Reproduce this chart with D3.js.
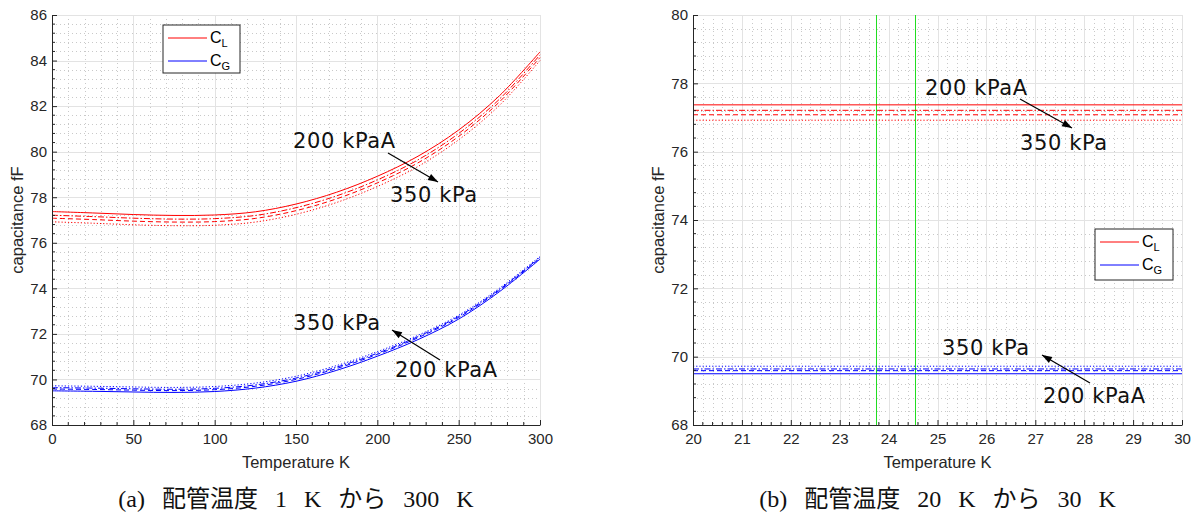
<!DOCTYPE html>
<html><head><meta charset="utf-8">
<script src="https://cdn.jsdelivr.net/npm/d3@7"></script>
<style>
body{margin:0;background:#fff;}
svg{display:block;}
</style></head>
<body>
<svg id="chart" width="1197" height="517"></svg>
<script>
// ---------- data ----------
const tempA = [0,25,50,75,100,125,150,175,200,225,250,275,300];
const cL_200 = [77.37,77.31,77.24,77.20,77.22,77.36,77.70,78.22,78.92,79.80,80.95,82.45,84.38];
const cL_250 = [77.21,77.15,77.08,77.04,77.06,77.20,77.54,78.06,78.76,79.64,80.80,82.30,84.25];
const cL_300 = [77.08,77.02,76.95,76.91,76.93,77.07,77.41,77.93,78.63,79.51,80.67,82.18,84.13];
const cL_350 = [76.92,76.86,76.79,76.75,76.77,76.91,77.25,77.77,78.47,79.35,80.52,82.03,84.00];
const cG_200 = [69.50,69.48,69.45,69.43,69.47,69.62,69.92,70.40,71.02,71.75,72.65,73.85,75.28];
const cG_300 = [69.58,69.56,69.53,69.51,69.55,69.70,70.00,70.48,71.10,71.83,72.72,73.91,75.32];
const cG_250 = [69.64,69.62,69.59,69.57,69.61,69.76,70.06,70.54,71.15,71.88,72.77,73.95,75.36];
const cG_350 = [69.72,69.70,69.67,69.65,69.69,69.84,70.14,70.61,71.22,71.94,72.82,74.00,75.40];

const tempB = [20,30];
const cL_200b = [77.37,77.37];
const cL_250b = [77.21,77.21];
const cL_300b = [77.08,77.08];
const cL_350b = [76.92,76.92];
const cG_200b = [69.50,69.50];
const cG_300b = [69.59,69.59];
const cG_250b = [69.64,69.64];
const cG_350b = [69.72,69.72];
const markerT = [23.75,24.55];

const xTicksA = [0,50,100,150,200,250,300];
const yTicksA = [68,70,72,74,76,78,80,82,84,86];
const xTicksB = [20,21,22,23,24,25,26,27,28,29,30];
const yTicksB = [68,70,72,74,76,78,80];
const legendLabels = ["L","G"];
const xLabel = "Temperature K";
const yLabel = "capacitance fF";
const captionA = "(a) 配管温度 1 K から 300 K";
const captionB = "(b) 配管温度 20 K から 30 K";

// ---------- drawing ----------
const svg = d3.select("#chart");
const AX = "#262626";
const styles = {solid:null, dashdot:"6,2,1.5,2", dashed:"5,3", dotted:"1.2,2"};

function panel(cfg){
  const x = d3.scaleLinear().domain(cfg.xd).range(cfg.xr);
  const y = d3.scaleLinear().domain(cfg.yd).range(cfg.yr);
  const g = svg.append("g");
  const xMinor = d3.range(cfg.xd[0], cfg.xd[1]+1e-9, cfg.xm).filter(v=>!cfg.xt.some(t=>Math.abs(t-v)<1e-6));
  const yMinor = d3.range(cfg.yd[0], cfg.yd[1]+1e-9, cfg.ym).filter(v=>!cfg.yt.some(t=>Math.abs(t-v)<1e-6));
  g.selectAll(".mx").data(xMinor).join("line")
    .attr("x1",d=>Math.round(x(d))+0.5).attr("x2",d=>Math.round(x(d))+0.5)
    .attr("y1",cfg.yr[1]).attr("y2",cfg.yr[0])
    .attr("stroke","#c9c9c9").attr("stroke-dasharray","1,3");
  g.selectAll(".my").data(yMinor).join("line")
    .attr("y1",d=>Math.round(y(d))+0.5).attr("y2",d=>Math.round(y(d))+0.5)
    .attr("x1",cfg.xr[0]).attr("x2",cfg.xr[1])
    .attr("stroke","#c9c9c9").attr("stroke-dasharray","1,3");
  g.selectAll(".gx").data(cfg.xt).join("line")
    .attr("x1",d=>Math.round(x(d))+0.5).attr("x2",d=>Math.round(x(d))+0.5)
    .attr("y1",cfg.yr[1]).attr("y2",cfg.yr[0])
    .attr("stroke","#e3e3e3");
  g.selectAll(".gy").data(cfg.yt).join("line")
    .attr("y1",d=>Math.round(y(d))+0.5).attr("y2",d=>Math.round(y(d))+0.5)
    .attr("x1",cfg.xr[0]).attr("x2",cfg.xr[1])
    .attr("stroke","#e3e3e3");
  if(cfg.markers){
    g.selectAll(".mk").data(cfg.markers).join("line")
      .attr("x1",d=>Math.round(x(d))+0.5).attr("x2",d=>Math.round(x(d))+0.5)
      .attr("y1",cfg.yr[1]).attr("y2",cfg.yr[0])
      .attr("stroke","#22dd22").attr("stroke-width",1);
  }
  const line = d3.line().x(d=>x(d[0])).y(d=>y(d[1])).curve(d3.curveCatmullRom);
  cfg.series.forEach(s=>{
    g.append("path").attr("d",line(cfg.t.map((t,i)=>[t,s.v[i]])))
      .attr("fill","none").attr("stroke",s.c).attr("stroke-width",1)
      .attr("stroke-dasharray",styles[s.s]);
  });
  const xa = g.append("g").attr("transform",`translate(0,${cfg.yr[0]})`)
    .call(d3.axisBottom(x).tickValues(cfg.xt).tickSize(-5).tickSizeOuter(0).tickPadding(8));
  const ya = g.append("g").attr("transform",`translate(${cfg.xr[0]},0)`)
    .call(d3.axisLeft(y).tickValues(cfg.yt).tickSize(-5).tickSizeOuter(0).tickPadding(5));
  [xa,ya].forEach(a=>{
    a.select(".domain").attr("stroke",AX);
    a.selectAll(".tick line").attr("stroke",AX);
    a.selectAll("text").attr("fill",AX).style("font-family","Liberation Sans, Arial, sans-serif").style("font-size","15px");
  });
  g.selectAll(".mtx").data(xMinor).join("line")
    .attr("x1",d=>x(d)).attr("x2",d=>x(d)).attr("y1",cfg.yr[0]).attr("y2",cfg.yr[0]-3).attr("stroke",AX);
  g.selectAll(".mty").data(yMinor).join("line")
    .attr("y1",d=>y(d)).attr("y2",d=>y(d)).attr("x1",cfg.xr[0]).attr("x2",cfg.xr[0]+3).attr("stroke",AX);
  const cx = (cfg.xr[0]+cfg.xr[1])/2;
  g.append("text").attr("x",cx).attr("y",468).attr("text-anchor","middle")
    .attr("fill",AX).style("font-family","Liberation Sans, Arial, sans-serif").style("font-size","16.5px").text(xLabel);
  g.append("text").attr("transform",`translate(${cfg.xr[0]-29},${(cfg.yr[0]+cfg.yr[1])/2}) rotate(-90)`)
    .attr("text-anchor","middle").attr("fill",AX)
    .style("font-family","Liberation Sans, Arial, sans-serif").style("font-size","16.5px").text(yLabel);
  g.append("text").attr("x",cx).attr("y",507).attr("text-anchor","middle")
    .attr("fill","#111").style("font-family","Liberation Serif, Noto Sans CJK JP, serif")
    .style("font-size","24px").style("word-spacing","11px").text(cfg.caption);
  const L = cfg.legend;
  const lg = g.append("g");
  lg.append("rect").attr("x",L.x).attr("y",L.y).attr("width",L.w).attr("height",L.h)
    .attr("fill","#fff").attr("stroke",AX);
  [["#ff0000",legendLabels[0]],["#0000ff",legendLabels[1]]].forEach((d,i)=>{
    const yy = L.y + 13 + i*23;
    lg.append("line").attr("x1",L.x+5).attr("x2",L.x+44).attr("y1",yy).attr("y2",yy).attr("stroke",d[0]);
    const t = lg.append("text").attr("x",L.x+47).attr("y",yy+5).attr("fill","#000")
      .style("font-family","Liberation Sans, Arial, sans-serif").style("font-size","16px");
    t.append("tspan").text("C");
    t.append("tspan").attr("dy",4).style("font-size","11px").text(d[1]);
  });
  cfg.notes.forEach(n=>{
    n.labels.forEach(l=>{
      g.append("text").attr("x",l[0]).attr("y",l[1]).attr("fill","#111")
        .style("font-family","DejaVu Sans, sans-serif").style("font-size","21px").style("letter-spacing","0.6px").text(l[2]);
    });
    const [x1,y1,x2,y2] = n.arrow;
    g.append("line").attr("x1",x1).attr("y1",y1).attr("x2",x2).attr("y2",y2).attr("stroke","#000").attr("stroke-width",1.2);
    const ang = Math.atan2(y2-y1,x2-x1), hl=10, hw=3.5;
    const bx = x2-hl*Math.cos(ang), by = y2-hl*Math.sin(ang);
    g.append("path").attr("d",`M${x2},${y2}L${bx-hw*Math.sin(ang)},${by+hw*Math.cos(ang)}L${bx+hw*Math.sin(ang)},${by-hw*Math.cos(ang)}Z`).attr("fill","#000");
  });
}

panel({
  xd:[0,300], xr:[52,540], yd:[68,86], yr:[425,15], xt:xTicksA, yt:yTicksA, xm:10, ym:0.4,
  t:tempA,
  series:[
    {v:cL_200,c:"#ff0000",s:"solid"},{v:cL_250,c:"#ff0000",s:"dashdot"},{v:cL_300,c:"#ff0000",s:"dashed"},{v:cL_350,c:"#ff0000",s:"dotted"},
    {v:cG_200,c:"#0000ff",s:"solid"},{v:cG_250,c:"#0000ff",s:"dashdot"},{v:cG_300,c:"#0000ff",s:"dashed"},{v:cG_350,c:"#0000ff",s:"dotted"}
  ],
  legend:{x:163,y:25,w:77,h:48},
  caption:captionA,
  notes:[
    {labels:[[293,148,"200 kPaA"],[390,202,"350 kPa"]], arrow:[388,153,438,182]},
    {labels:[[293,330,"350 kPa"],[395,377,"200 kPaA"]], arrow:[440,360,392,330]}
  ]
});
panel({
  xd:[20,30], xr:[693,1182], yd:[68,80], yr:[425,15], xt:xTicksB, yt:yTicksB, xm:0.2, ym:0.4,
  t:tempB, markers:markerT,
  series:[
    {v:cL_200b,c:"#ff0000",s:"solid"},{v:cL_250b,c:"#ff0000",s:"dashdot"},{v:cL_300b,c:"#ff0000",s:"dashed"},{v:cL_350b,c:"#ff0000",s:"dotted"},
    {v:cG_200b,c:"#0000ff",s:"solid"},{v:cG_250b,c:"#0000ff",s:"dashdot"},{v:cG_300b,c:"#0000ff",s:"dashed"},{v:cG_350b,c:"#0000ff",s:"dotted"}
  ],
  legend:{x:1095,y:229,w:78,h:51},
  caption:captionB,
  notes:[
    {labels:[[925,95,"200 kPaA"],[1020,150,"350 kPa"]], arrow:[1020,99,1072,128]},
    {labels:[[942,355,"350 kPa"],[1043,403,"200 kPaA"]], arrow:[1090,383,1042,355]}
  ]
});
</script>
</body></html>
